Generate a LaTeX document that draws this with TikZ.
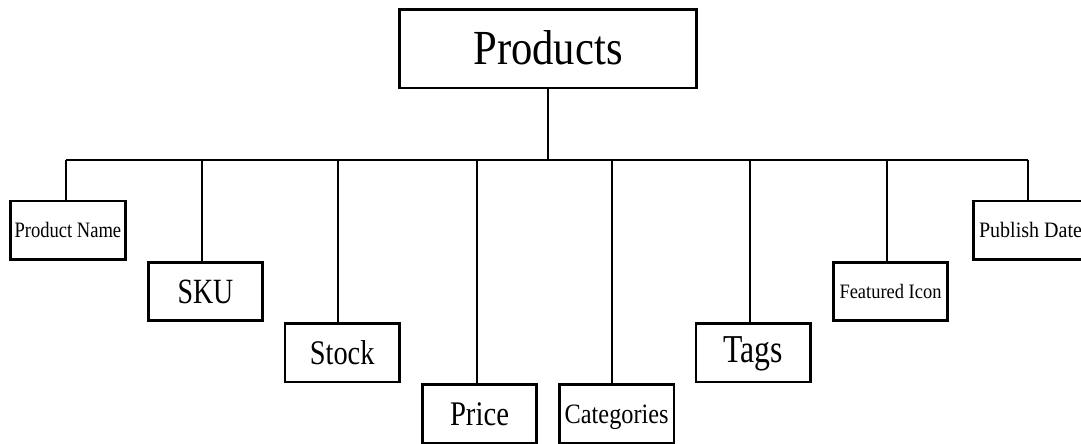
\documentclass[tikz,border=0pt]{standalone}
\usepackage{fontspec}
\usepackage{graphicx}
\setmainfont{Liberation Serif}
\newcommand\hsqz[2]{\scalebox{#1}[1]{#2}}
\tikzset{
  bx/.style={draw=black, line width=2.8pt, fill=white, inner sep=0pt,
    minimum width=114.5pt, minimum height=58.5pt, text depth=0pt},
  conn/.style={draw=black, line width=1.9pt}
}
\begin{document}
\begin{tikzpicture}[x=1pt,y=-1pt]
\useasboundingbox (0,0) rectangle (1081,444);
\node[bx, minimum width=297.5pt, minimum height=78.5pt,
  font=\fontsize{49}{49}\selectfont, text height=32.4pt] (prod) at (548,48.8) {\hsqz{0.87}{Products}};
\node[bx, font=\fontsize{22}{22}\selectfont, text height=14.5pt] (pname) at (67.9,230.2) {\hsqz{0.843}{Product Name}};
\node[bx, font=\fontsize{35.5}{35.5}\selectfont, text height=23.5pt] (sku) at (205.5,291.5) {\hsqz{0.785}{SKU}};
\node[bx, font=\fontsize{34.5}{34.5}\selectfont, text height=22.8pt] (stock) at (342.2,352.8) {\hsqz{0.823}{Stock}};
\node[bx, font=\fontsize{34.5}{34.5}\selectfont, text height=22.8pt] (price) at (479.5,414) {\hsqz{0.832}{Price}};
\node[bx, font=\fontsize{28}{28}\selectfont, text height=18.5pt] (cat) at (616.7,414) {\hsqz{0.868}{Categories}};
\node[bx, font=\fontsize{39.5}{39.5}\selectfont, text height=26.1pt, text depth=6pt] (tags) at (753.2,352.8) {\hsqz{0.803}{Tags}};
\node[bx, font=\fontsize{20.5}{20.5}\selectfont, text height=13.6pt] (feat) at (890.5,291.5) {\hsqz{0.90}{Featured Icon}};
\node[bx, font=\fontsize{22}{22}\selectfont, text height=14.5pt] (pub) at (1030.5,230.2) {\hsqz{0.91}{Publish Date}};
\coordinate (s1) at (66,160);
\coordinate (s2) at (202.3,160);
\coordinate (s3) at (337.7,160);
\coordinate (s4) at (476.7,160);
\coordinate (s5) at (612,160);
\coordinate (s6) at (750.3,160);
\coordinate (s7) at (886.7,160);
\coordinate (s8) at (1027.7,160);
\draw[conn] (prod.south) -- (prod.south |- s1);
\draw[conn] (s1) -- (s8);
\draw[conn] (s1) -- (s1 |- pname.north);
\draw[conn] (s2) -- (s2 |- sku.north);
\draw[conn] (s3) -- (s3 |- stock.north);
\draw[conn] (s4) -- (s4 |- price.north);
\draw[conn] (s5) -- (s5 |- cat.north);
\draw[conn] (s6) -- (s6 |- tags.north);
\draw[conn] (s7) -- (s7 |- feat.north);
\draw[conn] (s8) -- (s8 |- pub.north);
\end{tikzpicture}
\end{document}
